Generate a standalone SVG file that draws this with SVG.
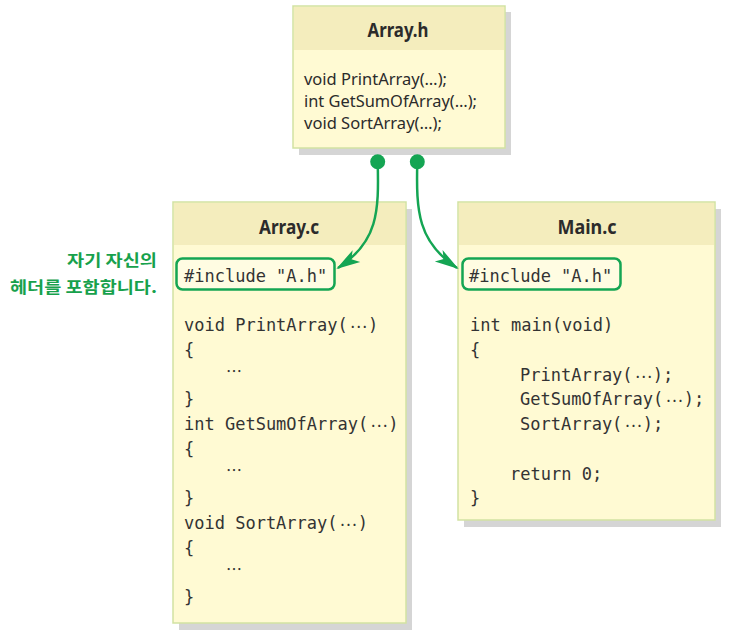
<svg xmlns="http://www.w3.org/2000/svg" width="737" height="641" viewBox="0 0 737 641">
<style>
.shadow{fill:#d5d5d5}
.body{fill:#fffad3;stroke:#d2e2a2;stroke-width:1.5}
.head{fill:#f4edbd}
.title{font-family:"Noto Sans","Open Sans",sans-serif;font-weight:bold;font-size:20px;fill:#2b2b2b;text-anchor:middle}
.proto{font-family:"Noto Sans","Open Sans",sans-serif;font-size:16px;fill:#2b2b2b}
.code{font-family:"DejaVu Sans Mono","Liberation Mono",monospace;font-size:17px;fill:#333333}
.el{font-family:"Noto Sans CJK KR","Noto Sans",sans-serif;font-size:16px}
.inc{fill:#ffffff;fill-opacity:0.35;stroke:#14a553;stroke-width:2.5}
.note{font-family:"Noto Sans CJK KR","Noto Sans",sans-serif;font-weight:bold;font-size:16px;fill:#17a14c;text-anchor:end}
.conn{fill:none;stroke:#14a553;stroke-width:2.5}
.dot{fill:#14a553}
</style>
<defs>
<marker id="ah" viewBox="0 0 24 16" refX="22" refY="8" markerWidth="24" markerHeight="16" markerUnits="userSpaceOnUse" orient="auto">
<path d="M0,1 L24,8 L0,15 L6,8 z" fill="#14a553"/>
</marker>
</defs>
<rect width="737" height="641" fill="#ffffff"/>

<g id="array_h">
<rect class="shadow" x="299" y="12" width="212" height="143"/>
<rect class="body" x="293" y="6" width="212" height="142"/>
<rect class="head" x="294" y="7" width="210" height="43"/>
<text class="title" x="398" y="37" textLength="61" lengthAdjust="spacingAndGlyphs">Array.h</text>
<text class="proto" x="304" y="85" textLength="143" lengthAdjust="spacingAndGlyphs">void PrintArray(…);</text>
<text class="proto" x="304" y="107" textLength="173" lengthAdjust="spacingAndGlyphs">int GetSumOfArray(…);</text>
<text class="proto" x="304" y="129" textLength="138" lengthAdjust="spacingAndGlyphs">void SortArray(…);</text>
</g>

<g id="array_c">
<rect class="shadow" x="179" y="209" width="233" height="421"/>
<rect class="body" x="173" y="202" width="233" height="421"/>
<rect class="head" x="174" y="203" width="231" height="42"/>
<text class="title" x="289" y="234" textLength="60" lengthAdjust="spacingAndGlyphs">Array.c</text>
<rect class="inc" x="176.5" y="258.5" width="158" height="31" rx="6"/>
<text class="code" x="184" y="282">#include "A.h"</text>
<text class="code" y="331"><tspan x="184">void PrintArray(</tspan><tspan class="el" x="350" y="328">⋯</tspan><tspan x="368" y="331">)</tspan></text>
<text class="code" x="184" y="355.75">{</text>
<text class="code el" x="234" y="377" text-anchor="middle">⋯</text>
<text class="code" x="184" y="405.25">}</text>
<text class="code" y="430"><tspan x="184">int GetSumOfArray(</tspan><tspan class="el" x="370.5" y="427">⋯</tspan><tspan x="388.2" y="430">)</tspan></text>
<text class="code" x="184" y="454.75">{</text>
<text class="code el" x="234" y="476" text-anchor="middle">⋯</text>
<text class="code" x="184" y="504.25">}</text>
<text class="code" y="529"><tspan x="184">void SortArray(</tspan><tspan class="el" x="339.8" y="526">⋯</tspan><tspan x="357.7" y="529">)</tspan></text>
<text class="code" x="184" y="553.75">{</text>
<text class="code el" x="234" y="575" text-anchor="middle">⋯</text>
<text class="code" x="184" y="603.25">}</text>
</g>

<g id="main_c">
<rect class="shadow" x="464" y="209" width="257" height="318"/>
<rect class="body" x="458" y="202" width="257" height="318"/>
<rect class="head" x="459" y="203" width="255" height="42"/>
<text class="title" x="587" y="234" textLength="59" lengthAdjust="spacingAndGlyphs">Main.c</text>
<rect class="inc" x="462.5" y="258.5" width="158" height="31" rx="6"/>
<text class="code" x="469" y="282">#include "A.h"</text>
<text class="code" x="470" y="331">int main(void)</text>
<text class="code" x="470" y="355.75">{</text>
<text class="code" y="380.5"><tspan x="520">PrintArray(</tspan><tspan class="el" x="634.9" y="377.5">⋯</tspan><tspan x="652.8" y="380.5">);</tspan></text>
<text class="code" y="405.25"><tspan x="520">GetSumOfArray(</tspan><tspan class="el" x="665.7" y="402.25">⋯</tspan><tspan x="683.7" y="405.25">);</tspan></text>
<text class="code" y="430"><tspan x="520">SortArray(</tspan><tspan class="el" x="624.7" y="427">⋯</tspan><tspan x="642.7" y="430">);</tspan></text>
<text class="code" x="510" y="479.5">return 0;</text>
<text class="code" x="470" y="504.25">}</text>
</g>

<g id="note">
<text class="note" x="157" y="266" textLength="90" lengthAdjust="spacingAndGlyphs">자기 자신의</text>
<text class="note" x="157" y="293" textLength="147" lengthAdjust="spacingAndGlyphs">헤더를 포함합니다.</text>
</g>

<g id="connectors">
<circle class="dot" cx="377.7" cy="161.7" r="7.5"/>
<circle class="dot" cx="417.3" cy="161.7" r="7.5"/>
<path class="conn" d="M377.7,162 C379,212 378,242 338,268" marker-end="url(#ah)"/>
<path class="conn" d="M417.3,162 C416,212 418,242 457,268" marker-end="url(#ah)"/>
</g>
</svg>
